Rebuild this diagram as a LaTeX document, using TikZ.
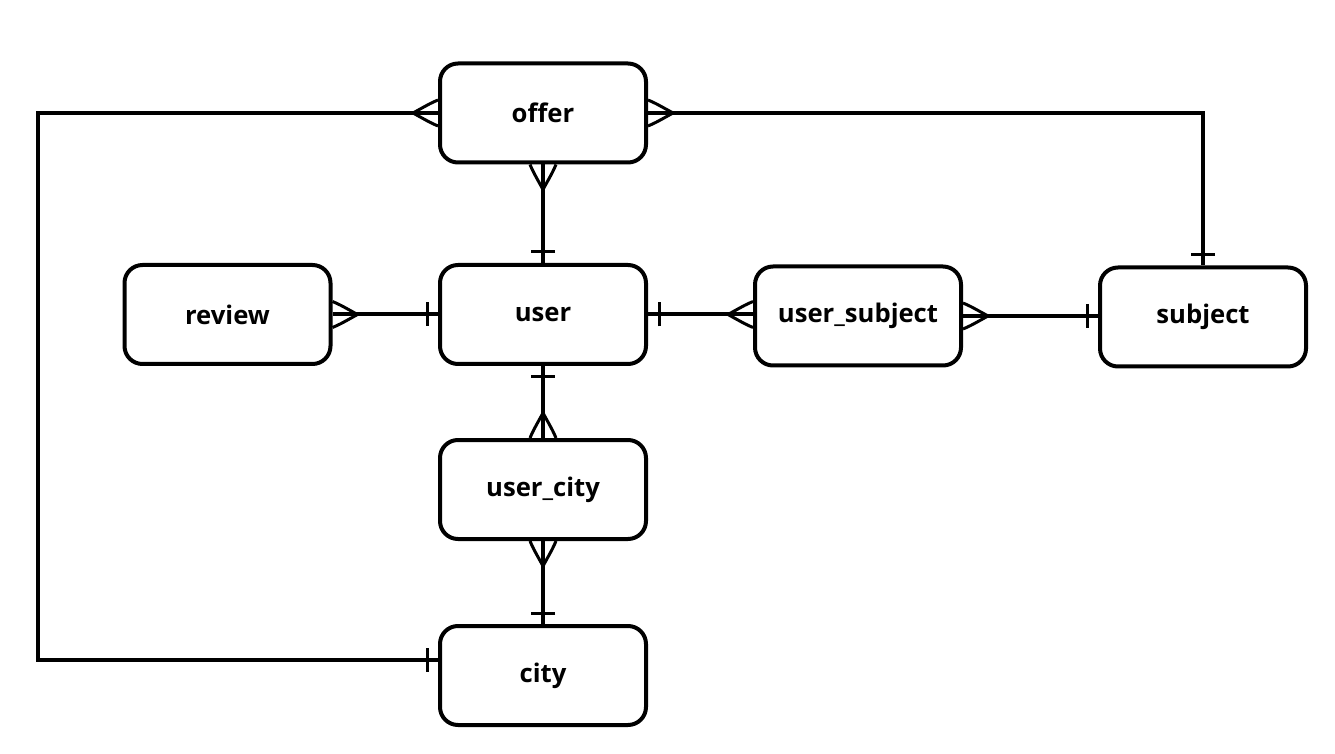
\documentclass[tikz,border=0pt]{standalone}
\usepackage{fontspec}
\setmainfont{Open Sans}
\usetikzlibrary{positioning,calc}

\tikzset{
	entity/.style={shape=rectangle, draw, rounded corners=0.36cm, line width=0.08cm,
		minimum width=4.12cm, minimum height=1.98cm, fill=white,
		font=\fontsize{14.6}{17}\selectfont\bfseries},
	link/.style={line width=0.08cm},
	many/.pic={\draw[line width=0.06cm] (0,0.26) .. controls (0.14,0.2) .. (0.5,0) .. controls (0.14,-0.2) .. (0,-0.26);},
	one/.pic={\draw[line width=0.06cm] (0.22,-0.24) -- (0.22,0.24);}
}

\begin{document}
\begin{tikzpicture}
		\useasboundingbox (0,0) rectangle (26.7,15.06);

		\node[entity] (offer) at (10.86, 12.80) {offer};
		\node[entity] (review) at (4.55, 8.77) {review};
		\node[entity] (user) at (10.86, 8.77) {user};
		\node[entity] (userSubject) at (17.16, 8.74) {user\_subject};
		\node[entity] (subject) at (24.06, 8.72) {subject};
		\node[entity] (userCity) at (10.86, 5.27) {user\_city};
		\node[entity] (city) at (10.86, 1.55) {city};

		\coordinate (cornerTop) at (0.76, 12.80);
		\coordinate (cityIn) at ($(city.west) + (0, 0.31)$);
		\coordinate (subjectIn) at (userSubject.east -| subject.west);

		\draw[link] (offer.west) -- (cornerTop) |- (cityIn);
		\draw[link] (offer.east) -| (subject.north);
		\draw[link] (offer.south) -- (user.north);
		\draw[link] (review.east) -- (user.west);
		\draw[link] (user.east) -- (user.east -| userSubject.west);
		\draw[link] (userSubject.east) -- (subjectIn);
		\draw[link] (user.south) -- (userCity.north);
		\draw[link] (userCity.south) -- (city.north);

		\pic[rotate=180] at (offer.west) {many};
		\pic at (offer.east) {many};
		\pic[rotate=-90] at (offer.south) {many};
		\pic at (review.east) {many};
		\pic[rotate=180] at (user.east -| userSubject.west) {many};
		\pic at (userSubject.east) {many};
		\pic[rotate=90] at (userCity.north) {many};
		\pic[rotate=-90] at (userCity.south) {many};

		\pic[rotate=90] at (user.north) {one};
		\pic[rotate=180] at (user.west) {one};
		\pic at (user.east) {one};
		\pic[rotate=-90] at (user.south) {one};
		\pic[rotate=180] at (subjectIn) {one};
		\pic[rotate=90] at (subject.north) {one};
		\pic[rotate=90] at (city.north) {one};
		\pic[rotate=180] at (cityIn) {one};
	\end{tikzpicture}
\end{document}
